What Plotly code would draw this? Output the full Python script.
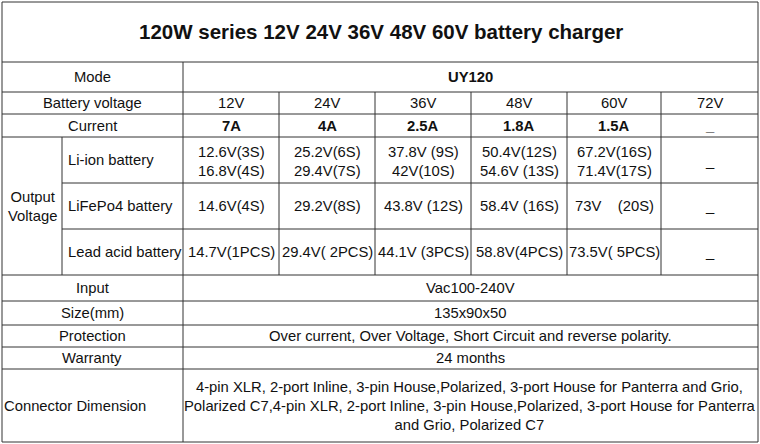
import plotly.graph_objects as go

title = "120W series 12V 24V 36V 48V 60V battery charger"
model = "UY120"
voltages = ["12V", "24V", "36V", "48V", "60V", "72V"]
currents = ["7A", "4A", "2.5A", "1.8A", "1.5A", "_"]
li_ion = ["12.6V(3S)<br>16.8V(4S)", "25.2V(6S)<br>29.4V(7S)", "37.8V (9S)<br>42V(10S)",
          "50.4V(12S)<br>54.6V (13S)", "67.2V(16S)<br>71.4V(17S)", "_"]
lifepo4 = ["14.6V(4S)", "29.2V(8S)", "43.8V (12S)", "58.4V (16S)", "73V&nbsp;&nbsp;&nbsp;&nbsp;(20S)", "_"]
lead_acid = ["14.7V(1PCS)", "29.4V( 2PCS)", "44.1V (3PCS)", "58.8V(4PCS)", "73.5V( 5PCS)", "_"]
spec_labels = ["Input", "Size(mm)", "Protection", "Warranty"]
spec_values = ["Vac100-240V", "135x90x50",
               "Over current, Over Voltage, Short Circuit and reverse polarity.", "24 months"]
connector = ("4-pin XLR, 2-port Inline, 3-pin House,Polarized, 3-port House for Panterra and Grio,<br>"
             "Polarized C7,4-pin XLR, 2-port Inline, 3-pin House,Polarized, 3-port House for Panterra<br>"
             "and Grio, Polarized C7")

L, R, T, B = 2, 758, 2, 442
C0, C1 = 62, 183
cols = [183, 279, 375, 471, 567, 661, 758]

fig = go.Figure()
shapes = []
def line(x0, y0, x1, y1):
    shapes.append(dict(type="line", x0=x0, y0=y0, x1=x1, y1=y1, xref="x", yref="y",
                       line=dict(color="#333", width=1)))
shapes.append(dict(type="rect", x0=L, y0=T, x1=R, y1=B, xref="x", yref="y",
                   line=dict(color="#333", width=1)))
for y in [62, 92, 114, 137, 275, 301, 325, 347, 369]:
    line(L, y, R, y)
for y in [183, 229]:
    line(C0, y, R, y)
line(C1, 62, C1, B)
line(C0, 137, C0, 275)
for x in cols[1:-1]:
    line(x, 92, x, 275)

ann = []
def txt(x, y, s, size=14.8, bold=False, xanchor="center"):
    ann.append(dict(x=x, y=y, xref="x", yref="y", text=f"<b>{s}</b>" if bold else s,
                    showarrow=False, xanchor=xanchor, yanchor="middle",
                    font=dict(size=size, color="#111", family="Liberation Sans, Arial")))

txt(381, 31, title, size=20.5, bold=True)
txt(92, 77, "Mode")
txt(470, 77, model, bold=True)
txt(92, 103, "Battery voltage")
txt(92, 126, "Current")
txt(32, 206, "Output<br>Voltage")
txt(66, 160, "Li-ion battery", xanchor="left")
txt(66, 206, "LiFePo4 battery", xanchor="left")
txt(66, 252, "Lead acid battery", xanchor="left")
for i in range(6):
    cx = (cols[i] + cols[i + 1]) / 2
    txt(cx, 103, voltages[i])
    txt(cx, 126, currents[i], bold=True)
    txt(cx, 161, li_ion[i])
    txt(cx, 206, lifepo4[i])
    txt(cx, 252, lead_acid[i])
mids = [288, 313, 336, 358]
for lab, val, y in zip(spec_labels, spec_values, mids):
    txt(92, y, lab)
    txt(470, y, val)
txt(75, 406, "Connector Dimension")
txt(470, 406, connector)

fig.update_layout(width=760, height=444, margin=dict(l=0, r=0, t=0, b=0),
                  paper_bgcolor="white", plot_bgcolor="white",
                  xaxis=dict(range=[0, 760], visible=False, fixedrange=True),
                  yaxis=dict(range=[444, 0], visible=False, fixedrange=True),
                  shapes=shapes, annotations=ann, showlegend=False)
fig.write_html("out.html", config={"displayModeBar": False},
               post_script="document.body.style.margin='0';document.body.style.overflow='hidden';")
